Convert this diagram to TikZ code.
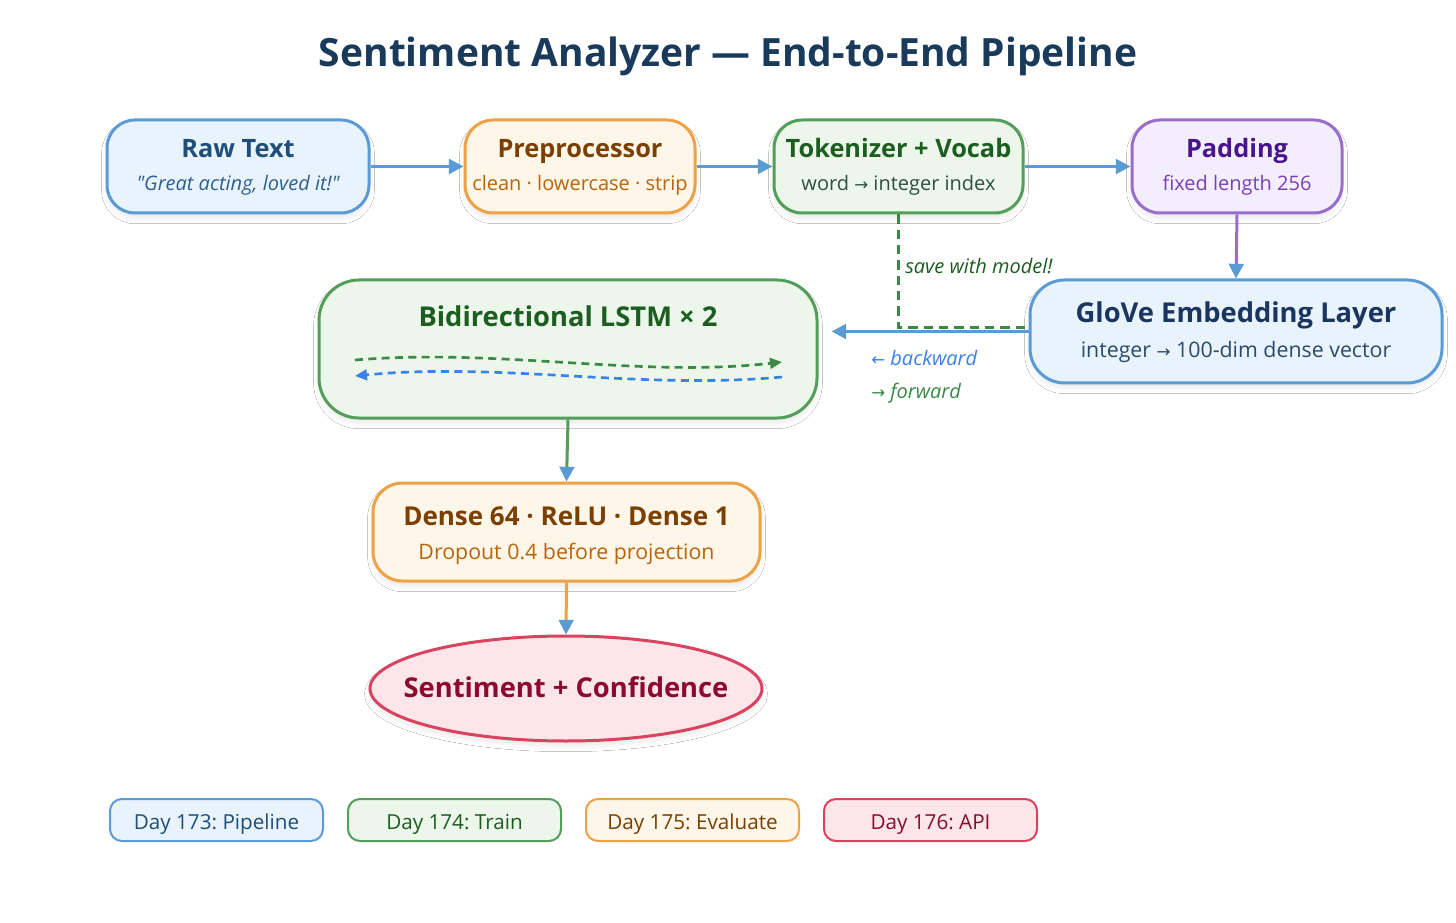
\documentclass[tikz,border=0pt]{standalone}
\usepackage{fontspec}
\setmainfont{Open Sans}
\newfontfamily\symf{DejaVu Sans}
\usetikzlibrary{arrows.meta,shapes.geometric,shadows.blur}
\frenchspacing
\definecolor{ttlC}{HTML}{1A3A5C}
\definecolor{blueB}{HTML}{5B9BD5}
\definecolor{blueF}{HTML}{E8F3FC}
\definecolor{blueT}{HTML}{1F4E79}
\definecolor{blueS}{HTML}{2F5F8F}
\definecolor{gloveT}{HTML}{1A3560}
\definecolor{gloveS}{HTML}{2C4A6B}
\definecolor{orgB}{HTML}{EFA145}
\definecolor{orgF}{HTML}{FEF6E8}
\definecolor{orgT}{HTML}{7B3F00}
\definecolor{orgS}{HTML}{B8650A}
\definecolor{grnB}{HTML}{529E5A}
\definecolor{grnF}{HTML}{ECF6EB}
\definecolor{grnT}{HTML}{1B5E20}
\definecolor{grnS}{HTML}{2F4F3F}
\definecolor{grnL}{HTML}{3A8A45}
\definecolor{purB}{HTML}{9B6DCB}
\definecolor{purF}{HTML}{F3EEFB}
\definecolor{purT}{HTML}{4A148C}
\definecolor{purS}{HTML}{7B3FB5}
\definecolor{redB}{HTML}{D9435F}
\definecolor{redF}{HTML}{FCE6EA}
\definecolor{redT}{HTML}{8B0A2E}
\definecolor{bwdC}{HTML}{3A82E8}
\newcommand\rarr{{\symf\fontsize{12.5}{12}\selectfont\char"2192}}
\newcommand\larr{{\symf\fontsize{12.5}{12}\selectfont\char"2190}}
\tikzset{
  softshadow/.style={blur shadow={shadow xshift=0pt, shadow yshift=-4pt, shadow opacity=8, shadow blur radius=4pt}},
  box/.style={rounded corners=21pt, line width=2.25pt, inner sep=0pt,
    minimum height=69.75pt, softshadow},
  ttl/.style={anchor=base, inner sep=0pt, font=\bfseries\fontsize{19}{22}\selectfont},
  bigttl/.style={anchor=base, inner sep=0pt, font=\bfseries\fontsize{20.5}{24}\selectfont},
  sub/.style={anchor=base, inner sep=0pt, font=\fontsize{15}{18}\selectfont},
  lbl/.style={anchor=base west, inner sep=0pt, font=\itshape\fontsize{15}{17}\selectfont},
  leg/.style={rounded corners=9pt, line width=1.5pt, inner sep=0pt,
    minimum width=159.75pt, minimum height=31.5pt},
  legtxt/.style={anchor=base, inner sep=0pt, font=\fontsize{15.5}{18}\selectfont},
  conn/.style={line width=2.25pt, draw=blueB, -{Triangle[length=11pt,width=11pt,color=blueB]}},
}
\begin{document}
\begin{tikzpicture}[x=0.75pt,y=-0.75pt]
\useasboundingbox[fill=white] (0,0) rectangle (1456,923);
% title
\node[anchor=base, inner sep=0pt, text=ttlC, font=\bfseries\fontsize{29.2}{33}\selectfont] (title) at (728,67) {Sentiment Analyzer — End-to-End Pipeline};
% top row
\node[box, fill=blueF, draw=blueB, minimum width=196.5pt] (raw) at (238,166.5) {};
\node[ttl, text=blueT] (rawA) at (238,158) {Raw Text};
\node[sub, text=blueS, font=\itshape\fontsize{15}{18}\selectfont] (rawB) at (238,191) {\textquotedbl Great acting, loved it!\textquotedbl};
\node[box, fill=orgF, draw=orgB, minimum width=172.5pt] (pre) at (580,166.5) {};
\node[ttl, text=orgT] (preA) at (580,158) {Preprocessor};
\node[sub, text=orgS] (preB) at (580,191) {clean · lowercase · strip};
\node[box, fill=grnF, draw=grnB, minimum width=186.75pt] (tok) at (898.5,166.5) {};
\node[ttl, text=grnT] (tokA) at (898.5,158) {Tokenizer + Vocab};
\node[sub, text=grnS] (tokB) at (898.5,191) {word \rarr\ integer index};
\node[box, fill=purF, draw=purB, minimum width=157.5pt] (pad) at (1237,166.5) {};
\node[ttl, text=purT] (padA) at (1237,158) {Padding};
\node[sub, text=purS] (padB) at (1237,191) {fixed length 256};
% glove
\node[box, fill=blueF, draw=blueB, minimum width=309pt, minimum height=77.25pt, rounded corners=26pt] (glove) at (1236,331.5) {};
\node[bigttl, text=gloveT] (gloveA) at (1236,323) {GloVe Embedding Layer};
\node[sub, text=gloveS, font=\fontsize{16}{19}\selectfont] (gloveB) at (1236,358) {integer \rarr\ 100-dim dense vector};
% lstm
\node[box, fill=grnF, draw=grnB, minimum width=373.5pt, minimum height=103.5pt, rounded corners=30pt] (lstm) at (568,349) {};
\node[bigttl, text=grnT] (lstmA) at (568,327) {Bidirectional LSTM × 2};
\draw[grnL, line width=2pt, dash pattern=on 6pt off 4pt, -{Triangle[length=9pt,width=8pt]}]
  (355,360) .. controls (500,348) and (640,378) .. (782,362);
\draw[bwdC, line width=2pt, dash pattern=on 6pt off 4pt, -{Triangle[length=9pt,width=8pt]}]
  (782,377) .. controls (640,390) and (500,362) .. (355,376);
% dense
\node[box, fill=orgF, draw=orgB, minimum width=290.25pt, minimum height=73.5pt, rounded corners=22pt] (dense) at (566.5,532) {};
\node[ttl, text=orgT, font=\bfseries\fontsize{19.5}{22}\selectfont] (denseA) at (566.5,525) {Dense 64 · ReLU · Dense 1};
\node[sub, text=orgS, font=\fontsize{16}{19}\selectfont] (denseB) at (566.5,559) {Dropout 0.4 before projection};
% output ellipse
\node[ellipse, fill=redF, draw=redB, line width=2.25pt, minimum width=294pt, minimum height=78.75pt, inner sep=0pt, softshadow] (out) at (566,688.5) {};
\node[bigttl, text=redT] (outA) at (566,697) {Sentiment + Confidence};
% connectors
\draw[conn] (raw.east) -- (pre.west);
\draw[conn] (pre.east) -- (tok.west);
\draw[conn] (tok.east) -- (pad.west);
\draw[conn, draw=purB] (pad.south) -- (glove.north);
\draw[conn, shorten >=9.75pt] (glove.west) -- (glove.west -| lstm.east);
\draw[conn, draw=grnB] (lstm.south) -- (dense.north);
\draw[conn, draw=orgB] (dense.south) -- (out.north);
\draw[grnL, line width=1.9pt, dash pattern=on 7pt off 4.5pt] (tok.south) |- ([yshift=3pt]glove.west);
% labels
\node[lbl, text=grnT] (saveL) at (905,274) {save with model!};
\node[lbl, text=bwdC] (bwdL) at (871,366) {\larr\ backward};
\node[lbl, text=grnL] (fwdL) at (871,398) {\rarr\ forward};
% legend
\node[leg, fill=blueF, draw=blueB] (l1) at (216.5,820) {};
\node[legtxt, text=blueT] (l1t) at (216.5,829) {Day 173: Pipeline};
\node[leg, fill=grnF, draw=grnB] (l2) at (454.5,820) {};
\node[legtxt, text=grnT] (l2t) at (454.5,829) {Day 174: Train};
\node[leg, fill=orgF, draw=orgB] (l3) at (692.5,820) {};
\node[legtxt, text=orgT] (l3t) at (692.5,829) {Day 175: Evaluate};
\node[leg, fill=redF, draw=redB] (l4) at (930.5,820) {};
\node[legtxt, text=redT] (l4t) at (930.5,829) {Day 176: API};
\end{tikzpicture}
\end{document}
